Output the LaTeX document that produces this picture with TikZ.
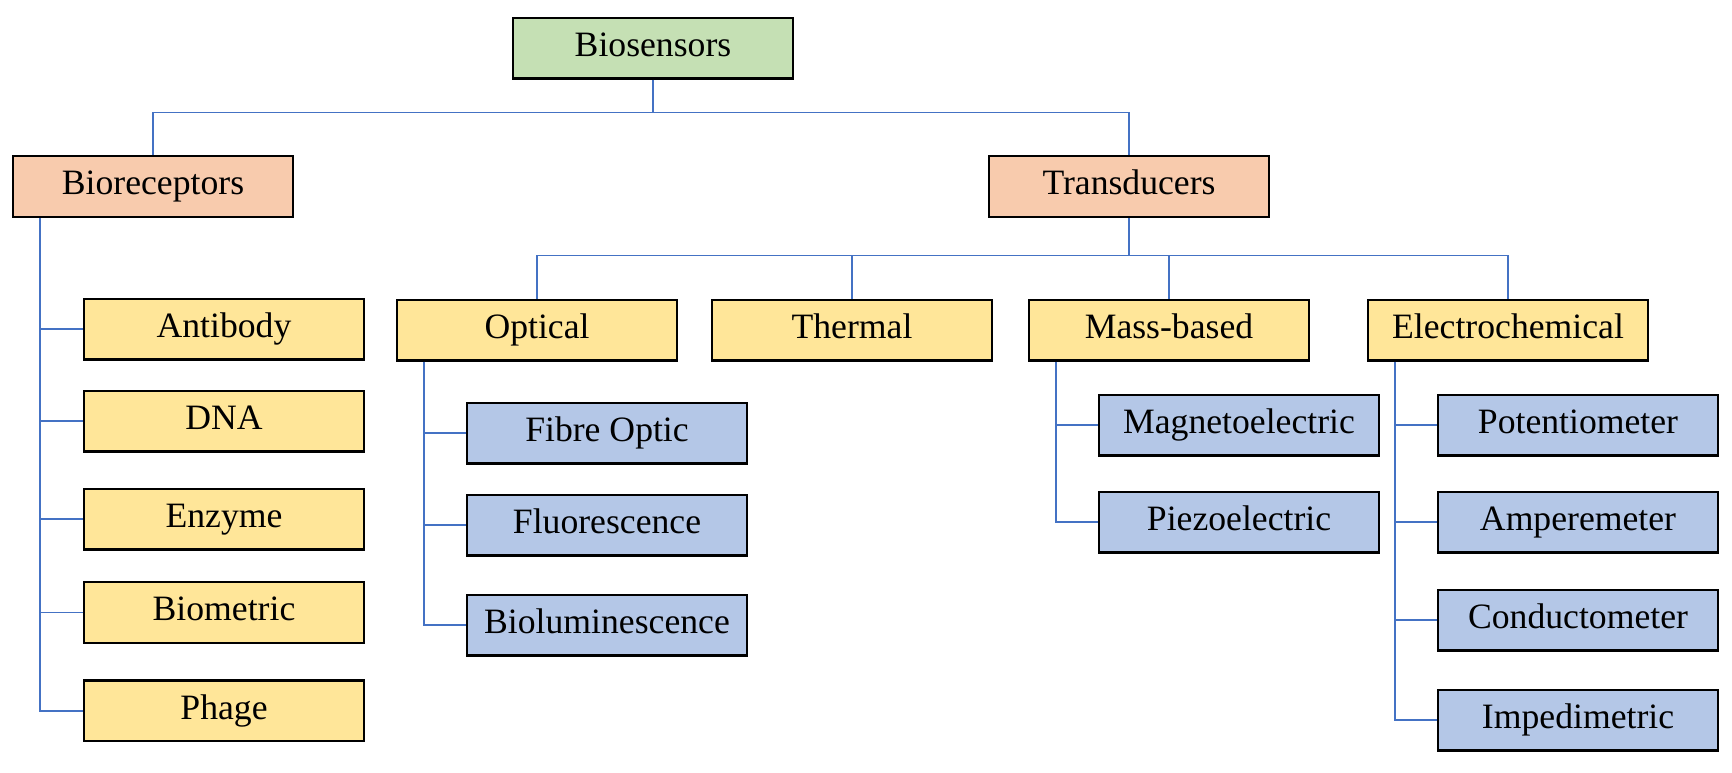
\documentclass[tikz,border=0pt]{standalone}
\usepackage{fontspec}
\setmainfont{Liberation Serif}
\usetikzlibrary{calc}
\definecolor{cgreen}{HTML}{C5E0B4}
\definecolor{cpeach}{HTML}{F8CBAD}
\definecolor{cyellow}{HTML}{FFE699}
\definecolor{cblue}{HTML}{B4C7E7}
\definecolor{cline}{HTML}{4472C4}
\tikzset{
  box/.style={draw=black, line width=0.7pt, minimum width=84pt, minimum height=18.2pt,
    inner sep=0pt, text height=0.7em, text depth=0.2em,
    font=\fontsize{10.7}{12}\selectfont},
  rootbox/.style={box, fill=cgreen},
  catbox/.style={box, fill=cpeach},
  subbox/.style={box, fill=cyellow},
  leafbox/.style={box, fill=cblue},
  link/.style={draw=cline, line width=0.5pt}
}
\begin{document}
\begin{tikzpicture}[x=0.3pt,y=-0.3pt]
\useasboundingbox (0,0) rectangle (1732,772);
% level 0/1
\node[rootbox] (bio) at (653,48) {Biosensors};
\node[catbox] (rec) at (153,186.5) {Bioreceptors};
\node[catbox] (tra) at (1129,186.5) {Transducers};
% bioreceptors
\node[subbox] (ant) at (224,329) {Antibody};
\node[subbox] (dna) at (224,421) {DNA};
\node[subbox] (enz) at (224,519) {Enzyme};
\node[subbox] (bme) at (224,612.5) {Biometric};
\node[subbox] (pha) at (224,710.7) {Phage};
% transducers
\node[subbox] (opt) at (537,330) {Optical};
\node[subbox] (the) at (852,330) {Thermal};
\node[subbox] (mas) at (1169,330) {Mass-based};
\node[subbox] (ele) at (1508,330) {Electrochemical};
% optical
\node[leafbox] (fib) at (607,433) {Fibre Optic};
\node[leafbox] (flu) at (607,525) {Fluorescence};
\node[leafbox] (blu) at (607,625) {Bioluminescence};
% mass
\node[leafbox] (mag) at (1239,425) {Magnetoelectric};
\node[leafbox] (pie) at (1239,522) {Piezoelectric};
% electro
\node[leafbox] (pot) at (1578,425) {Potentiometer};
\node[leafbox] (amp) at (1578,522) {Amperemeter};
\node[leafbox] (con) at (1578,620) {Conductometer};
\node[leafbox] (imp) at (1578,720) {Impedimetric};
% connectors
\coordinate (j1) at ($(bio.south)+(0,33)$);
\draw[link] (bio.south) -- (j1);
\draw[link] (rec.north) |- (j1) -| (tra.north);
\coordinate (j2) at ($(tra.south)+(0,37.5)$);
\draw[link] (tra.south) -- (j2);
\draw[link] (opt.north) |- (j2) -| (ele.north);
\draw[link] (the.north) -- (the.north |- j2);
\draw[link] (mas.north) -- (mas.north |- j2);
% bioreceptor trunk
\coordinate (t1) at ($(rec.south west)+(28,0)$);
\draw[link] (t1) |- (pha.west);
\foreach \n in {ant,dna,enz,bme} \draw[link] (t1 |- \n.west) -- (\n.west);
% optical trunk
\coordinate (t2) at ($(opt.south west)+(28,0)$);
\draw[link] (t2) |- (blu.west);
\foreach \n in {fib,flu} \draw[link] (t2 |- \n.west) -- (\n.west);
% mass trunk
\coordinate (t3) at ($(mas.south west)+(28,0)$);
\draw[link] (t3) |- (pie.west);
\draw[link] (t3 |- mag.west) -- (mag.west);
% electro trunk
\coordinate (t4) at ($(ele.south west)+(28,0)$);
\draw[link] (t4) |- (imp.west);
\foreach \n in {pot,amp,con} \draw[link] (t4 |- \n.west) -- (\n.west);
\end{tikzpicture}
\end{document}
